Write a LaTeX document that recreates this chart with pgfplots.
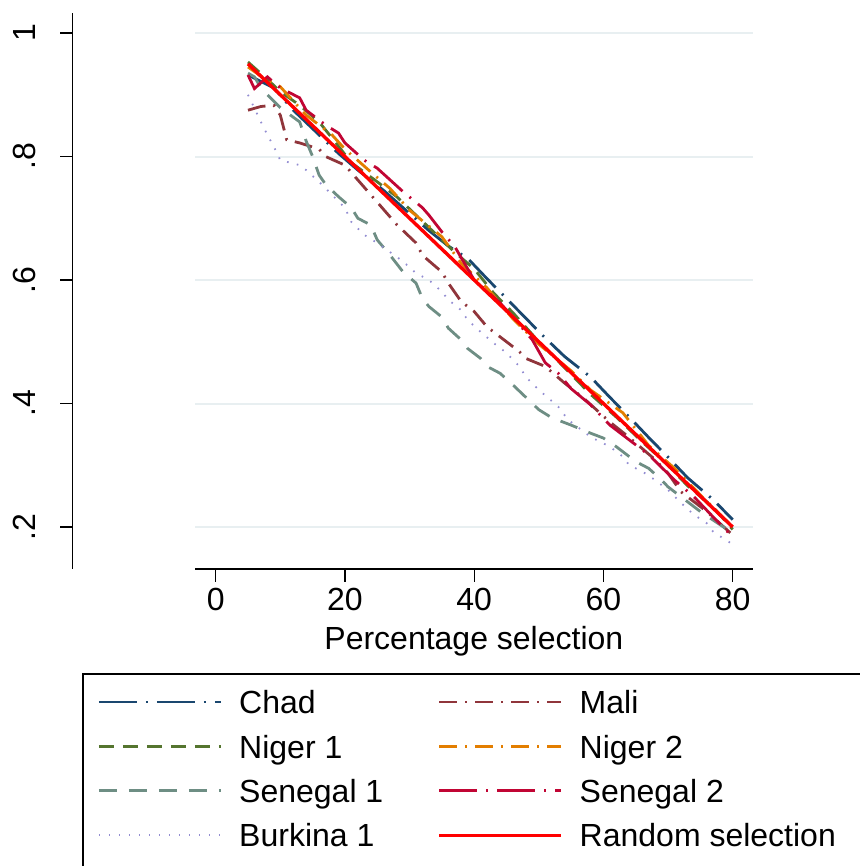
\documentclass[border=0pt]{standalone}
\usepackage{fontspec}
\setmainfont{Liberation Sans}
\usepackage{pgfplots}
\pgfplotsset{compat=1.18}

\definecolor{stnavy}{RGB}{26,71,111}
\definecolor{stmaroon}{RGB}{144,53,59}
\definecolor{stgreen}{RGB}{85,117,47}
\definecolor{storange}{RGB}{227,126,0}
\definecolor{stteal}{RGB}{110,142,132}
\definecolor{stcran}{RGB}{193,5,52}
\definecolor{stlav}{RGB}{147,141,210}
\definecolor{gridc}{RGB}{232,239,241}

\newcommand{\lblfont}{\fontsize{16}{19}\selectfont}

\begin{document}
\begin{tikzpicture}
\useasboundingbox (0,0) rectangle (429.5pt,433pt);

\begin{axis}[
  at={(97.5pt,148.5pt)}, anchor=south west,
  scale only axis, width=278.85pt, height=278pt,
  xmin=-3.2, xmax=83.1, ymin=0.132, ymax=1.0324,
  axis x line*=bottom, axis y line*=left,
  axis line style={-, line width=0.65pt},
  % the y axis stands apart, left of the plot region (Stata style)
  y axis line style={xshift=-61.15pt},
  ytick={0.2,0.4,0.6,0.8,1},
  yticklabels={.2,.4,.6,.8,1},
  ytick style={draw=none},
  yticklabel style={font=\lblfont, xshift=-73.15pt, rotate=90, anchor=base},
  ymajorgrids, major grid style={draw=gridc, line width=1pt},
  xtick={0,20,40,60,80},
  tick align=outside, major tick length=6.5pt,
  xtick style={line width=0.65pt, black},
  /pgf/number format/assume math mode=true,
  xticklabel style={font=\lblfont, anchor=base, yshift=-14.5pt},
  xlabel={Percentage selection},
  xlabel style={font=\lblfont, at={(axis description cs:0.5,0)}, anchor=base, yshift=-40.5pt},
  legend columns=2,
  legend cell align=left,
  legend image code/.code={\draw[#1] (0pt,0pt) -- (61pt,0pt);},
  legend style={at={(-0.1757,-0.2122)}, anchor=north west, draw=none, fill=none,
    inner sep=0pt, row sep=7.5pt, font=\lblfont, nodes={inner sep=0pt},
    /tikz/every odd column/.append style={column sep=8.5pt},
    /tikz/every even column/.append style={column sep=27pt, text height=13.2pt, text depth=1.8pt}},
]
% Chad
\addplot[stnavy, line width=1.4pt, dash pattern=on 19pt off 4.5pt on 1pt off 4.5pt] coordinates {
(5,0.932)(9,0.911)(12,0.875)(16,0.835)(19,0.805)(22,0.778)(26,0.745)(29,0.717)(33,0.68)(36,0.655)
(39,0.635)(42,0.602)(45,0.570)(48,0.538)(51,0.506)(54,0.476)(58,0.443)(61,0.41)(64,0.378)(67,0.345)
(70,0.313)(73,0.28)(77,0.244)(80,0.212)};
\addlegendentry{Chad}
% Mali
\addplot[stmaroon, line width=1.4pt, dash pattern=on 9pt off 4pt on 1pt off 4pt] coordinates {
(5,0.875)(7,0.881)(9,0.883)(10,0.867)(11,0.827)(13,0.822)(16,0.812)(17,0.8)(20,0.786)(24,0.738)
(28,0.69)(31,0.66)(32,0.64)(35,0.613)(36,0.595)(38,0.565)(40,0.549)(42,0.524)(44,0.508)(47,0.484)
(48,0.473)(51,0.46)(54,0.433)(57,0.408)(61,0.37)(64,0.345)(68,0.309)(70,0.287)(72,0.257)(76,0.225)(80,0.187)};
\addlegendentry{Mali}
% Niger 1
\addplot[stgreen, line width=1.4pt, dash pattern=on 7.5pt off 4.5pt] coordinates {
(5,0.953)(8,0.925)(10,0.905)(13,0.883)(16,0.856)(18,0.83)(21,0.79)(25,0.759)(28,0.735)(31,0.705)
(34,0.675)(37,0.645)(40,0.618)(43,0.579)(46,0.547)(50,0.5)(54,0.458)(58,0.415)(62,0.378)(66,0.338)
(70,0.3)(73,0.267)(77,0.232)(80,0.196)};
\addlegendentry{Niger 1}
% Niger 2
\addplot[storange, line width=1.4pt, dash pattern=on 9pt off 4pt on 1pt off 4pt] coordinates {
(5,0.945)(7,0.93)(10,0.913)(14,0.867)(18,0.835)(20,0.812)(24,0.775)(27,0.748)(30,0.713)(35,0.67)
(38,0.627)(42,0.587)(46,0.537)(50,0.496)(55,0.453)(58,0.422)(63,0.385)(67,0.332)(71,0.295)(75,0.252)(80,0.2)};
\addlegendentry{Niger 2}
% Senegal 1
\addplot[stteal, line width=1.4pt, dash pattern=on 9pt off 6pt] coordinates {
(5,0.935)(6,0.929)(7,0.911)(8,0.9)(10,0.879)(13,0.856)(14,0.825)(15,0.8)(16,0.77)(17,0.755)
(19,0.735)(21,0.717)(22,0.7)(24,0.689)(25,0.665)(27,0.64)(29,0.613)(31,0.595)(32,0.57)(33,0.557)
(35,0.54)(36,0.522)(38,0.503)(39,0.489)(41,0.473)(42,0.46)(44,0.449)(46,0.43)(48,0.41)(50,0.39)
(52,0.377)(55,0.365)(58,0.352)(60,0.344)(62,0.33)(64,0.314)(65,0.306)(67,0.295)(69,0.276)(70,0.265)
(72,0.249)(75,0.225)(77,0.211)(80,0.19)};
\addlegendentry{Senegal 1}
% Senegal 2
\addplot[stcran, line width=1.4pt, dash pattern=on 19pt off 4.5pt on 1pt off 4.5pt] coordinates {
(5,0.932)(6,0.91)(8,0.929)(10,0.911)(13,0.895)(14,0.875)(17,0.851)(19,0.838)(20,0.822)(23,0.794)
(25,0.781)(29,0.743)(32,0.717)(33,0.705)(35,0.678)(37,0.654)(40,0.6)(44,0.563)(46,0.54)(49,0.503)
(51,0.466)(53,0.449)(55,0.424)(58,0.398)(61,0.365)(64,0.341)(67,0.317)(71,0.276)(74,0.249)(77,0.216)(80,0.184)};
\addlegendentry{Senegal 2}
% Burkina 1
\addplot[stlav, line width=0.9pt, dash pattern=on 0.8pt off 4.2pt] coordinates {
(5,0.9)(7,0.856)(8,0.835)(9,0.816)(10,0.794)(13,0.786)(14,0.778)(16,0.759)(18,0.738)(20,0.717)
(21,0.694)(23,0.673)(25,0.66)(27,0.645)(29,0.63)(31,0.611)(33,0.6)(35,0.581)(36,0.568)(38,0.551)
(39,0.535)(41,0.516)(43,0.498)(45,0.482)(47,0.46)(48,0.443)(50,0.422)(53,0.395)(54,0.381)(55,0.37)
(58,0.346)(61,0.33)(63,0.314)(64,0.3)(66,0.29)(68,0.276)(70,0.26)(72,0.239)(74,0.22)(76,0.206)
(77,0.192)(80,0.172)};
\addlegendentry{Burkina 1}
% Random selection
\addplot[red, line width=1.7pt] coordinates {(5,0.95)(80,0.2)};
\addlegendentry{Random selection}
\end{axis}

% outward tick marks on the detached y axis (.2 to 1)
\foreach \ty in {169.5,231.25,293.0,354.75,416.5}
  \draw[line width=0.65pt] (36.35pt,\ty pt) -- (29.85pt,\ty pt);

% legend frame (runs past the page edge as in the original)
\draw[line width=0.7pt] (41.5pt,-10pt) rectangle (440pt,96pt);
\end{tikzpicture}
\end{document}
